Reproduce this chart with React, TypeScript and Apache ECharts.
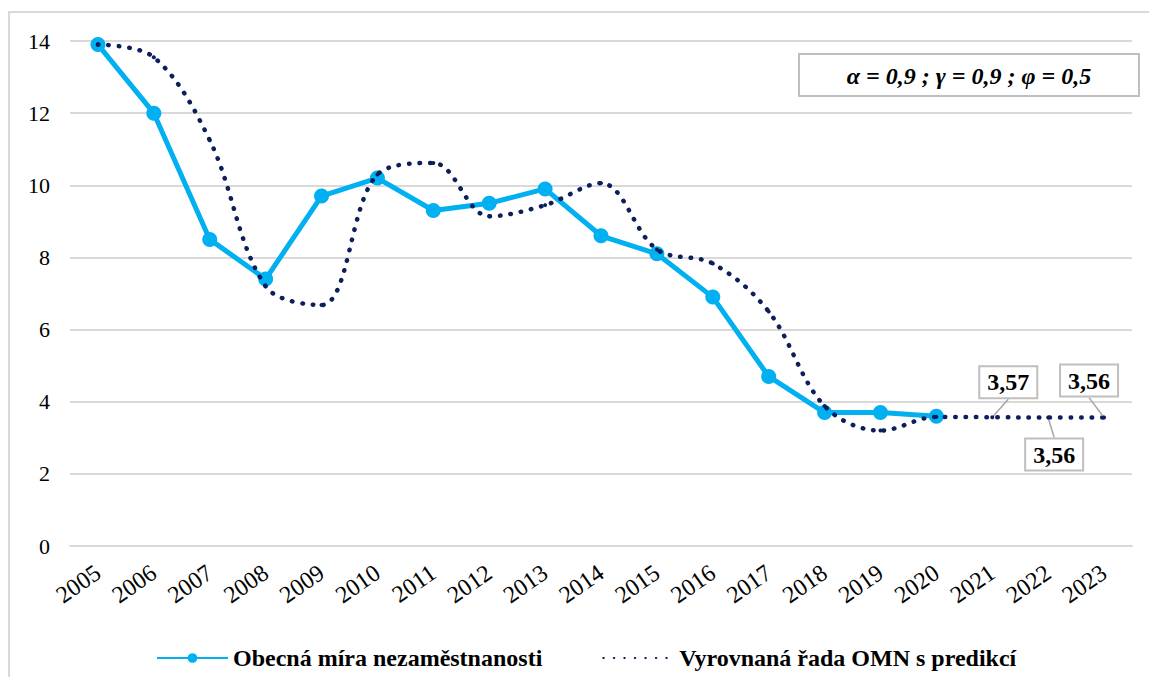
import React, { useEffect, useRef } from "react";
import * as echarts from "echarts";

const years = ["2005","2006","2007","2008","2009","2010","2011","2012","2013","2014","2015","2016","2017","2018","2019","2020","2021","2022","2023"];
const unemployment = [13.9, 12.0, 8.5, 7.4, 9.7, 10.2, 9.3, 9.5, 9.9, 8.6, 8.1, 6.9, 4.7, 3.7, 3.7, 3.6];
const smoothed = [13.9, 13.55, 11.25, 7.2, 6.68, 10.3, 10.62, 9.14, 9.45, 10.06, 8.22, 7.83, 6.5, 3.88, 3.2, 3.58, 3.57, 3.56, 3.56];
const labeledIndices = [16, 17, 18];
const labelOffsets = [[16, -35], [6, 37], [-15, -37]];
const paramText = "α = 0,9 ; γ = 0,9 ; φ = 0,5";
const seriesNames = ["Obecná míra nezaměstnanosti", "Vyrovnaná řada OMN s predikcí"];

const FONT = "Liberation Serif";

export default function App() {
  const ref = useRef<HTMLDivElement>(null);
  useEffect(() => {
    if (!ref.current) return;
    const chart = echarts.init(ref.current, undefined, { renderer: "svg" });
    const fmt = (v: number) => v.toFixed(2).replace(".", ",");
    chart.setOption({
      animation: false,
      textStyle: { fontFamily: FONT },
      grid: { left: 60, right: 17, top: 28, bottom: 131, containLabel: false },
      legend: {
        left: 141,
        top: 628,
        itemWidth: 71,
        itemHeight: 12,
        itemGap: 60,
        textStyle: { fontFamily: FONT, fontSize: 24, fontWeight: "bold", color: "#000" },
        data: [
          { name: seriesNames[0] },
          { name: seriesNames[1], itemStyle: { opacity: 0 } },
        ],
      },
      xAxis: {
        type: "category",
        data: years,
        boundaryGap: true,
        axisTick: { show: false },
        axisLine: { lineStyle: { color: "#d9d9d9", width: 2 } },
        axisLabel: { rotate: 35, fontFamily: FONT, fontSize: 24, color: "#000", margin: 24, interval: 0 },
      },
      yAxis: {
        type: "value",
        min: 0,
        max: 14,
        interval: 2,
        axisLine: { show: false },
        axisTick: { show: false },
        axisLabel: { fontFamily: FONT, fontSize: 22, color: "#000", margin: 20 },
        splitLine: { lineStyle: { color: "#d9d9d9", width: 2 } },
      },
      series: [
        {
          name: seriesNames[0],
          type: "line",
          data: unemployment,
          symbol: "circle",
          symbolSize: 15,
          lineStyle: { color: "#00b0f0", width: 5 },
          itemStyle: { color: "#00b0f0" },
          z: 2,
        },
        {
          name: seriesNames[1],
          type: "line",
          smooth: 0.35,
          data: smoothed.map((v, i) => {
            const k = labeledIndices.indexOf(i);
            if (k < 0) return v;
            return {
              value: v,
              label: {
                show: true,
                position: "inside",
                formatter: () => fmt(v),
                fontFamily: FONT,
                fontSize: 24,
                fontWeight: "bold",
                color: "#000",
                backgroundColor: "#fff",
                borderColor: "#bfbfbf",
                borderWidth: 2,
                padding: [4, 7, 2, 7],
              },
            };
          }),
          symbol: "circle",
          symbolSize: 4,
          itemStyle: { color: "#0c1f5b" },
          lineStyle: { color: "#0c1f5b", width: 4.5, type: [0.5, 10], cap: "round" },
          labelLine: { show: true, lineStyle: { color: "#a6a6a6", width: 1.5 } },
          labelLayout: (params: any) => {
            const k = labeledIndices.indexOf(params.dataIndex);
            if (k < 0) return {};
            return { dx: labelOffsets[k][0], dy: labelOffsets[k][1] };
          },
          z: 3,
        },
      ],
      graphic: [
        {
          type: "group",
          left: 788,
          top: 40,
          children: [
            {
              type: "rect",
              shape: { x: 0, y: 0, width: 340, height: 42 },
              style: { fill: "#fff", stroke: "#bfbfbf", lineWidth: 2 },
            },
            {
              type: "text",
              x: 170,
              y: 22,
              style: {
                text: paramText,
                fontFamily: FONT,
                fontSize: 24,
                fontWeight: "bold",
                fontStyle: "italic",
                fill: "#000",
                align: "center",
                verticalAlign: "middle",
              },
            },
          ],
        },
      ],
    });
    return () => chart.dispose();
  }, []);
  return (
    <div
      style={{
        position: "absolute",
        left: 8,
        top: 11,
        borderTop: "2px solid #d9d9d9",
        borderLeft: "2px solid #d9d9d9",
        background: "#fff",
      }}
    >
      <div ref={ref} style={{ width: 1139, height: 664 }} />
    </div>
  );
}
